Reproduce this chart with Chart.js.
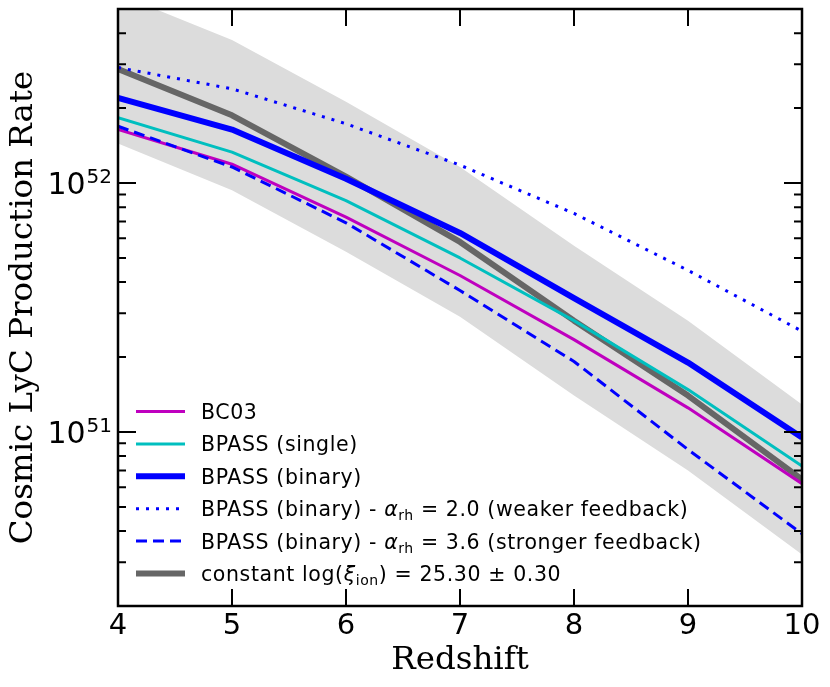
<!DOCTYPE html>
<html>
<head>
<meta charset="utf-8">
<script src="https://cdn.jsdelivr.net/npm/chart.js@4.4.1/dist/chart.umd.min.js"></script>
<style>
  html, body { margin: 0; padding: 0; background: #fff; }
  #wrap { width: 830px; height: 687px; }
</style>
</head>
<body>
<div id="wrap"><canvas id="lyc-chart" width="830" height="687"></canvas></div>
<script>
// redshift grid
const redshift = [4, 5, 6, 7, 8, 9, 10];

// LyC production rate
const bc03 = [1.64e52, 1.19e52, 7.3e51, 4.25e51, 2.35e51, 1.25e51, 6.2e50];
const bpassSingle = [1.83e52, 1.33e52, 8.5e51, 5.0e51, 2.8e51, 1.48e51, 7.3e50];
const bpassBinary = [2.2e52, 1.64e52, 1.04e52, 6.3e51, 3.45e51, 1.9e51, 9.5e50];
const binaryWeak = [2.91e52, 2.39e52, 1.73e52, 1.18e52, 7.55e51, 4.46e51, 2.54e51];
const binaryStrong = [1.69e52, 1.16e52, 6.92e51, 3.7e51, 1.92e51, 8.5e50, 3.9e50];
const constXi = [2.87e52, 1.87e52, 1.06e52, 5.8e51, 2.8e51, 1.4e51, 6.45e50];
const bandHigh = [5.75e52, 3.75e52, 2.12e52, 1.16e52, 5.6e51, 2.8e51, 1.29e51];
const bandLow = [1.44e52, 9.35e51, 5.3e51, 2.9e51, 1.4e51, 7.0e50, 3.22e50];

// tick labels
const xTicks = [4, 5, 6, 7, 8, 9, 10];
const yMajorExp = [51, 52];

function pts(arr) {
    return redshift.map((z, i) => ({ x: z, y: arr[i] }));
}

// legend entries: text split in pieces (n = normal, i = italic, s = subscript)
const legendItems = [
    { ds: 3, parts: [['n', 'BC03']] },
    { ds: 4, parts: [['n', 'BPASS (single)']] },
    { ds: 5, parts: [['n', 'BPASS (binary)']] },
    { ds: 6, parts: [['n', 'BPASS (binary) - '], ['i', 'α'], ['s', 'rh'], ['n', ' = 2.0 (weaker feedback)']] },
    { ds: 7, parts: [['n', 'BPASS (binary) - '], ['i', 'α'], ['s', 'rh'], ['n', ' = 3.6 (stronger feedback)']] },
    { ds: 2, parts: [['n', 'constant log('], ['i', 'ξ'], ['s', 'ion'], ['n', ') = 25.30 ± 0.30']] }
];

const frameAndLabels = {
    id: 'frameAndLabels',
    afterDraw(chart) {
        const ctx = chart.ctx;
        const a = chart.chartArea;
        const xs = chart.scales.x;
        const ys = chart.scales.y;
        ctx.save();
        ctx.strokeStyle = '#000';
        ctx.lineWidth = 2;
        ctx.lineCap = 'butt';

        // x ticks, bottom and top, pointing inward
        xTicks.forEach(v => {
            const px = xs.getPixelForValue(v);
            ctx.beginPath();
            ctx.moveTo(px, a.bottom); ctx.lineTo(px, a.bottom - 17);
            ctx.moveTo(px, a.top); ctx.lineTo(px, a.top + 17);
            ctx.stroke();
        });

        // y ticks, major + minor, both sides
        for (let e = 50; e <= 52; e++) {
            for (let m = 1; m <= 9; m++) {
                const v = m * Math.pow(10, e);
                if (v < ys.min || v > ys.max) continue;
                const py = ys.getPixelForValue(v);
                const len = m === 1 ? 18 : 8;
                ctx.beginPath();
                ctx.moveTo(a.left, py); ctx.lineTo(a.left + len, py);
                ctx.moveTo(a.right, py); ctx.lineTo(a.right - len, py);
                ctx.stroke();
            }
        }

        // frame
        ctx.lineWidth = 2.5;
        ctx.strokeRect(a.left, a.top, a.right - a.left, a.bottom - a.top);

        // y tick labels 10^n
        ctx.fillStyle = '#000';
        ctx.textBaseline = 'alphabetic';
        yMajorExp.forEach(e => {
            const py = ys.getPixelForValue(Math.pow(10, e));
            ctx.font = '20px "DejaVu Sans"';
            ctx.textAlign = 'right';
            const supX = a.left - 6;
            ctx.fillText(String(e), supX, py);
            const w = ctx.measureText(String(e)).width;
            ctx.font = '30px "DejaVu Sans"';
            ctx.fillText('10', supX - w - 1, py + 11);
        });

        // legend
        const x0 = 136, x1 = 185, tx = 201;
        ctx.letterSpacing = '0.6px';
        legendItems.forEach((item, i) => {
            const ds = chart.data.datasets[item.ds];
            const base = 419 + 32.4 * i;
            const ly = base - 7.5;
            ctx.save();
            ctx.strokeStyle = ds.borderColor;
            ctx.lineWidth = ds.borderWidth;
            ctx.setLineDash(ds.borderDash || []);
            ctx.beginPath();
            ctx.moveTo(x0, ly); ctx.lineTo(x1, ly);
            ctx.stroke();
            ctx.restore();

            let cx = tx;
            ctx.textAlign = 'left';
            item.parts.forEach(([kind, txt]) => {
                let dy = 0;
                if (kind === 'n') ctx.font = '20.5px "DejaVu Sans"';
                else if (kind === 'i') ctx.font = 'italic 20.5px "DejaVu Sans"';
                else { ctx.font = '14px "DejaVu Sans"'; dy = 4; }
                ctx.fillText(txt, cx, base + dy);
                cx += ctx.measureText(txt).width;
            });
        });
        ctx.letterSpacing = '0px';
        ctx.restore();
    }
};

const ctx = document.getElementById('lyc-chart').getContext('2d');
const chart = new Chart(ctx, {
    type: 'line',
    data: {
        datasets: [{
            label: 'band high',
            data: pts(bandHigh),
            borderWidth: 0,
            borderColor: 'rgba(0,0,0,0)',
            backgroundColor: '#dcdcdc',
            fill: '+1',
            order: 20
        },
        {
            label: 'band low',
            data: pts(bandLow),
            borderWidth: 0,
            borderColor: 'rgba(0,0,0,0)',
            fill: false,
            order: 21
        },
        {
            label: 'constant log(xi_ion) = 25.30 +- 0.30',
            data: pts(constXi),
            borderColor: '#666666',
            borderWidth: 6,
            order: 10
        },
        {
            label: 'BC03',
            data: pts(bc03),
            borderColor: '#bf00bf',
            borderWidth: 3,
            order: 6
        },
        {
            label: 'BPASS (single)',
            data: pts(bpassSingle),
            borderColor: '#00bfbf',
            borderWidth: 3,
            order: 5
        },
        {
            label: 'BPASS (binary)',
            data: pts(bpassBinary),
            borderColor: '#0000ff',
            borderWidth: 6,
            order: 4
        },
        {
            label: 'BPASS (binary) - alpha_rh = 2.0 (weaker feedback)',
            data: pts(binaryWeak),
            borderColor: '#0000ff',
            borderWidth: 3,
            borderDash: [3, 7],
            order: 3
        },
        {
            label: 'BPASS (binary) - alpha_rh = 3.6 (stronger feedback)',
            data: pts(binaryStrong),
            borderColor: '#0000ff',
            borderWidth: 3,
            borderDash: [11, 6],
            order: 2
        }]
    },
    options: {
        responsive: false,
        animation: false,
        devicePixelRatio: 1,
        layout: { padding: { top: 9, right: 28, left: 0, bottom: 0 } },
        elements: {
            point: { radius: 0, hoverRadius: 0 },
            line: { tension: 0, borderCapStyle: 'butt', borderJoinStyle: 'round' }
        },
        plugins: {
            legend: { display: false },
            tooltip: { enabled: false }
        },
        scales: {
            x: {
                type: 'linear',
                min: 4,
                max: 10,
                grid: { display: false, drawTicks: false },
                border: { display: false },
                ticks: {
                    stepSize: 1,
                    padding: 3,
                    color: '#000',
                    font: { family: 'DejaVu Sans', size: 29 }
                },
                title: {
                    display: true,
                    text: 'Redshift',
                    color: '#000',
                    font: { family: 'DejaVu Serif', size: 32.5 },
                    padding: { top: 0, bottom: 7 }
                },
                afterFit(s) { s.height = 81; }
            },
            y: {
                type: 'logarithmic',
                min: 2e50,
                max: 5e52,
                grid: { display: false, drawTicks: false },
                border: { display: false },
                ticks: { display: false },
                title: {
                    display: true,
                    text: 'Cosmic LyC Production Rate',
                    color: '#000',
                    font: { family: 'DejaVu Serif', size: 32.5 },
                    padding: { top: 4, bottom: 0 }
                },
                afterFit(s) { s.width = 118; }
            }
        }
    },
    plugins: [frameAndLabels]
});
</script>
</body>
</html>
